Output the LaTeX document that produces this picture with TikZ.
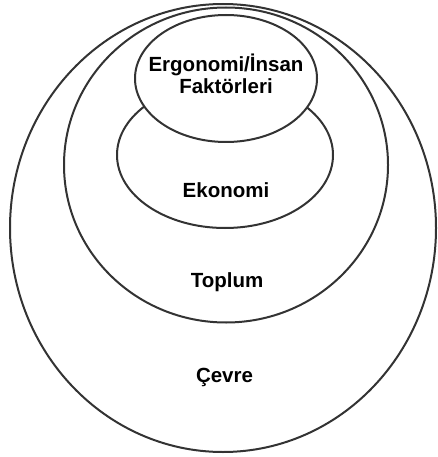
\documentclass[tikz,border=0pt]{standalone}
\usepackage{fontspec}
\setmainfont{Liberation Sans}
\usetikzlibrary{shapes.geometric}

\begin{document}
\begin{tikzpicture}[
    x=1pt, y=-1pt,
    ring/.style={ellipse, draw=black!80, line width=2pt, inner sep=0pt},
    lbl/.style={font=\bfseries\fontsize{20.5}{22}\selectfont, align=center, inner sep=0pt},
]
\useasboundingbox (0,0) rectangle (438,457);

% Nested ellipses, outermost first
\node[ring, minimum width=426pt, minimum height=448pt] (cevre) at (223,228) {};
\node[ring, minimum width=324pt, minimum height=315pt] (toplum) at (226,165) {};
\node[ring, minimum width=216pt, minimum height=146pt] (ekonomi) at (225,155) {};
\node[ring, fill=white, minimum width=182pt, minimum height=127pt] (ergonomi) at (226,78.5) {};

% Labels
\node[lbl] (ergonomiText) at (226,74) {Ergonomi/İnsan\\Faktörleri};
\node[lbl] (ekonomiText) at (226,190) {Ekonomi};
\node[lbl] (toplumText) at (227,282) {Toplum};
\node[lbl] (cevreText) at (224.5,377) {Çevre};
\end{tikzpicture}
\end{document}
